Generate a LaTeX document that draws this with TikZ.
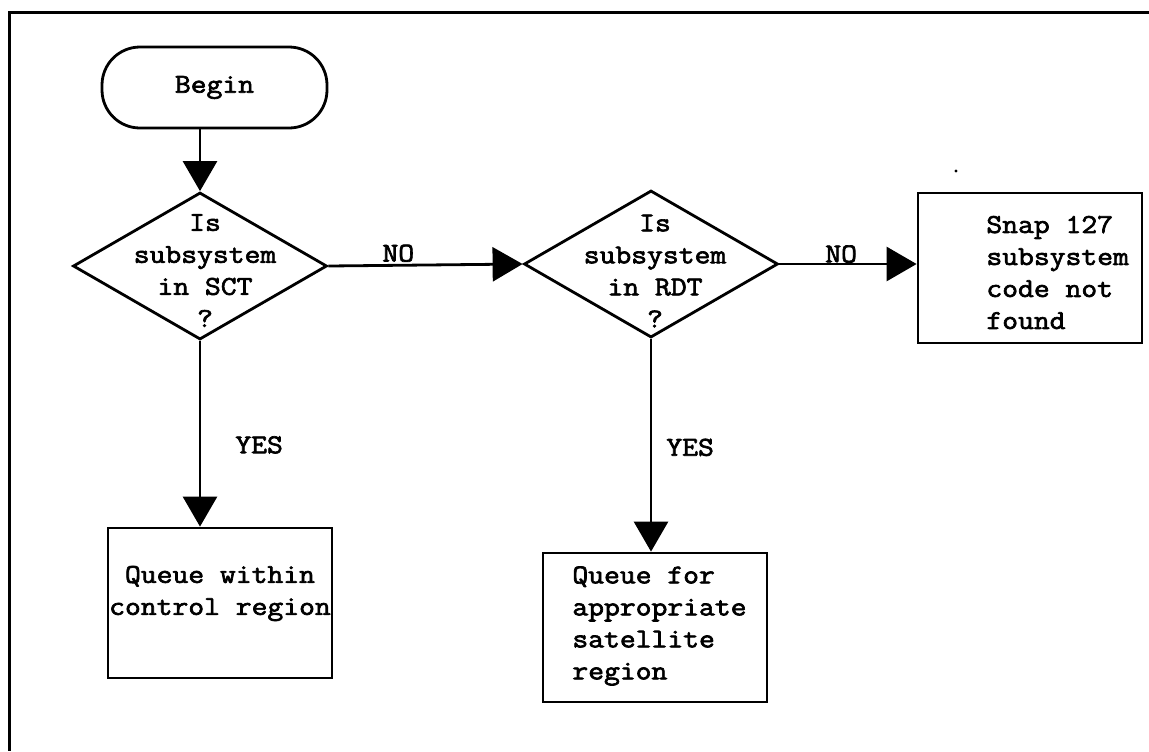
\documentclass[tikz,border=0pt]{standalone}
\usepackage{fontspec}
\newfontfamily\tw{Latin Modern Mono}[FakeStretch=1.13,RawFeature={embolden=2.5}]
\usetikzlibrary{arrows.meta,shapes.geometric}
\begin{document}
\begin{tikzpicture}[x=0.5pt,y=-0.5pt,
  every node/.style={font=\tw\fontsize{13.6}{16}\selectfont},
  ln/.style={line width=1.4pt},
  arr/.style={ln,-{Triangle[length=15pt,width=17pt]}},
  boxst/.style={draw,ln,rectangle,inner sep=0pt,minimum width=112pt},
  dia/.style={draw,ln,diamond,inner sep=0pt,minimum width=127pt,minimum height=73.5pt},
  txt/.style={inner sep=0pt},
  lbl/.style={inner sep=1pt}
]
\useasboundingbox (0,0) rectangle (1149,751);
% frame
\draw[line width=1.2pt] (1149,12.5) -- (9.5,12.5) -- (9.5,751);

% begin
\node[draw,ln,rounded corners=19pt,minimum width=112.5pt,minimum height=40.5pt] (b) at (214.5,87.5) {Begin};

% decisions
\node[dia] (d1) at (200,266) {};
\node[txt,align=center] (d1t) at (205,270.5) {Is\\subsystem\\in SCT\\?};
\node[dia] (d2) at (651,264) {};
\node[txt,align=center] (d2t) at (655,271) {Is\\subsystem\\in RDT\\?};

% boxes
\node[boxst,minimum height=75pt] (s) at (1030,268) {};
\node[txt,align=left,anchor=west] (st) at (986,272.5) {Snap 127\\subsystem\\code not\\found};
\node[boxst,minimum height=75pt] (q1) at (220,603) {};
\node[txt,align=center] (q1t) at (220,593.5) {Queue within\\control region};
\node[boxst,minimum height=74.5pt] (q2) at (655,627.5) {};
\node[txt,align=left,anchor=west] (q2t) at (572,626) {Queue for\\appropriate\\satellite\\region};

% connectors
\draw[arr] (d1.north |- b.south) -- (d1.north);
\draw[arr] (d1.east) -- node[lbl,above,pos=0.36] {NO} (d2.west);
\draw[arr] (d2.east) -- node[lbl,above,pos=0.45,inner sep=0pt] {NO} (d2.east -| s.west);
\draw[arr] (d1.south) -- node[lbl,right,pos=0.56,xshift=16pt] {YES} (d1.south |- q1.north);
\draw[arr] (d2.south) -- node[lbl,right,pos=0.51,xshift=6pt] {YES} (d2.south |- q2.north);

% stray dot
\fill (956,171) circle (0.8pt);
\end{tikzpicture}
\end{document}
